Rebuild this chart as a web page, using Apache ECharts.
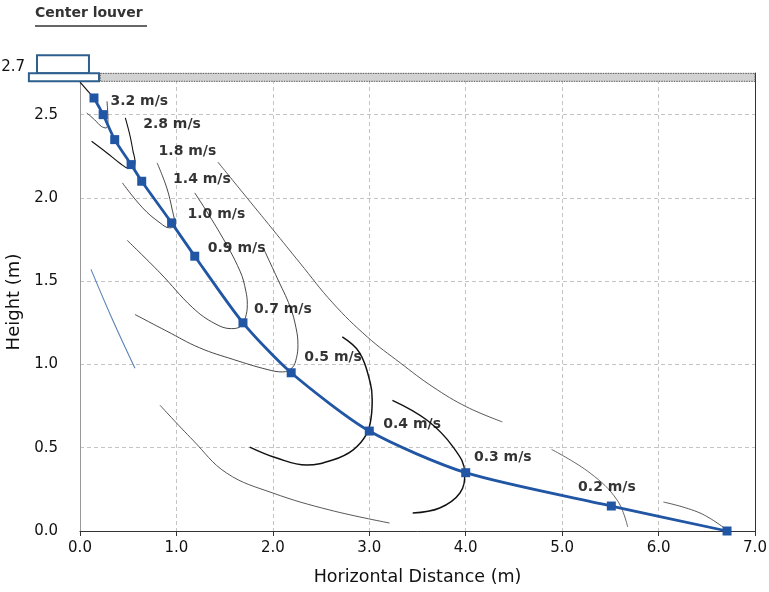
<!DOCTYPE html>
<html>
<head>
<meta charset="utf-8">
<script src="https://cdn.jsdelivr.net/npm/echarts@6/dist/echarts.min.js"></script>
<style>
html,body{margin:0;padding:0;background:#fff;}
#chart{width:769px;height:592px;}
</style>
</head>
<body>
<div id="chart"></div>
<script>
// Main jet trajectory (blue line with square markers)
var trajX = [0.145, 0.24, 0.36, 0.53, 0.64, 0.95, 1.19, 1.69, 2.19, 3.00, 4.00, 5.51, 6.71];
var trajY = [2.60, 2.50, 2.35, 2.20, 2.10, 1.85, 1.65, 1.25, 0.95, 0.60, 0.35, 0.15, 0.00];

// Outlet connector (louver to first point)
var outletLine = [[0.0, 2.695], [0.13, 2.61]];

// Velocity contours (thin lines)
var c32 = [[0.07,2.51],[0.15,2.47],[0.22,2.43],[0.27,2.42],[0.29,2.47],[0.28,2.58]];
var c28 = [[0.12,2.34],[0.28,2.27],[0.41,2.21],[0.50,2.18],[0.55,2.18],[0.57,2.22],[0.55,2.28],[0.52,2.37],[0.47,2.48]];
var c18 = [[0.44,2.09],[0.65,1.94],[0.83,1.85],[0.93,1.82],[0.985,1.84],[0.96,1.92],[0.90,2.06],[0.80,2.21]];
var c14 = [[1.43,2.215],[1.69,2.03],[2.00,1.81],[2.28,1.61],[2.62,1.37],[2.98,1.165],[3.32,1.01],[3.66,0.865],[4.01,0.745],[4.38,0.655]];
var c10 = [[0.49,1.745],[0.83,1.55],[1.17,1.34],[1.40,1.245],[1.57,1.215],[1.67,1.23],[1.715,1.28],[1.735,1.36],[1.72,1.44],[1.66,1.56],[1.45,1.79],[1.19,2.03]];
var c09 = [[0.57,1.30],[0.90,1.20],[1.24,1.10],[1.59,1.03],[1.94,0.97],[2.10,0.955],[2.20,0.98],[2.245,1.04],[2.26,1.12],[2.24,1.22],[2.18,1.345],[2.04,1.525],[1.90,1.70]];
var cLeft = [[0.114,1.571],[0.34,1.265],[0.57,0.977]];
var cLow = [[0.83,0.755],[1.17,0.546],[1.52,0.348],[2.00,0.228],[2.59,0.126],[3.21,0.048]];
var c05 = [[1.76,0.504],[2.04,0.438],[2.35,0.396],[2.62,0.426],[2.83,0.486],[2.97,0.58],[3.02,0.685],[3.03,0.79],[3.01,0.89],[2.90,1.07],[2.72,1.165]];
var c04 = [[3.24,0.785],[3.60,0.665],[3.87,0.504],[3.99,0.348],[3.94,0.228],[3.73,0.138],[3.45,0.108]];
var c02 = [[4.89,0.49],[5.29,0.348],[5.57,0.186],[5.68,0.024]];
var cEnd = [[6.05,0.174],[6.43,0.108],[6.71,0.006]];

// Contour labels
var labelTexts = ['3.2 m/s','2.8 m/s','1.8 m/s','1.4 m/s','1.0 m/s','0.9 m/s','0.7 m/s','0.5 m/s','0.4 m/s','0.3 m/s','0.2 m/s'];
var labelX = [0.31, 0.65, 0.81, 0.96, 1.11, 1.32, 1.80, 2.32, 3.14, 4.08, 5.16];
var labelY = [2.58, 2.44, 2.28, 2.11, 1.90, 1.70, 1.33, 1.04, 0.64, 0.44, 0.26];

// Axis ticks
var xTicks = [0, 1, 2, 3, 4, 5, 6, 7];
var yTicks = [0, 0.5, 1.0, 1.5, 2.0, 2.5];
var ceilingHeight = 2.7;

var FONT = 'DejaVu Sans';
var chart = echarts.init(document.getElementById('chart'), null, {renderer: 'canvas'});

function contour(data, color, width) {
  return {
    type: 'line', data: data, smooth: 0.4, symbol: 'none', silent: true,
    lineStyle: {color: color, width: width}, z: 2
  };
}

var trajData = trajX.map(function (x, i) { return [x, trajY[i]]; });
var labelData = labelTexts.map(function (t, i) { return {name: t, value: [labelX[i], labelY[i]]}; });

var series = [
  contour(c32, '#333', 0.9),
  contour(c28, '#111', 1.1),
  contour(c18, '#333', 0.9),
  contour(c14, '#444', 0.9),
  contour(c10, '#333', 0.9),
  contour(c09, '#333', 0.9),
  contour(cLeft, '#5b83b3', 1.1),
  contour(cLow, '#444', 0.9),
  contour(c05, '#111', 1.5),
  contour(c04, '#111', 1.4),
  contour(c02, '#555', 0.9),
  contour(cEnd, '#444', 0.9),
  contour(outletLine, '#111', 1.2),
  {
    type: 'line', data: trajData, smooth: 0.25, z: 5,
    symbol: 'rect', symbolSize: 9,
    itemStyle: {color: '#2156a5'},
    lineStyle: {color: '#2156a5', width: 2.8}
  },
  {
    type: 'scatter', data: labelData, symbolSize: 1, z: 6, silent: true,
    itemStyle: {color: 'rgba(0,0,0,0)'},
    label: {
      show: true, position: 'right', distance: 0,
      formatter: function (p) { return p.name; },
      fontFamily: FONT, fontWeight: 'bold', fontSize: 14, color: '#000'
    }
  },
  {
    type: 'custom', z: 8, silent: true, clip: false,
    data: [[0, ceilingHeight]],
    renderItem: function (params, api) {
      var top = ceilingHeight + 0.048;
      var p0 = api.coord([0.21, top]);
      var p1 = api.coord([7.0, ceilingHeight]);
      var a0 = api.coord([-0.53, top]);
      var a1 = api.coord([0.197, ceilingHeight]);
      var b0 = api.coord([-0.446, ceilingHeight + 0.157]);
      var b1 = api.coord([0.093, top]);
      var t = api.coord([-0.57, ceilingHeight + 0.085]);
      return {
        type: 'group',
        children: [
          {type: 'rect', shape: {x: p0[0], y: p0[1], width: p1[0] - p0[0], height: p1[1] - p0[1]},
           style: {fill: '#d2d2d2', stroke: '#555', lineWidth: 1, lineDash: [1.5, 1]}},
          {type: 'rect', shape: {x: b0[0], y: b0[1], width: b1[0] - b0[0], height: b1[1] - b0[1]},
           style: {fill: '#fff', stroke: '#2e5f8e', lineWidth: 2}},
          {type: 'rect', shape: {x: a0[0], y: a0[1], width: a1[0] - a0[0], height: a1[1] - a0[1]},
           style: {fill: '#fff', stroke: '#2e5f8e', lineWidth: 2}},
          {type: 'text', x: t[0], y: t[1],
           style: {text: ceilingHeight.toFixed(1), fill: '#111', font: '15px ' + FONT, textAlign: 'right', textVerticalAlign: 'middle'}}
        ]
      };
    }
  }
];

var option = {
  backgroundColor: '#fff',
  animation: false,
  grid: {left: 80, right: 14, top: 73, bottom: 61, containLabel: false, outerBoundsMode: 'none'},
  graphic: [
    {type: 'text', left: 35, top: 6,
     style: {text: 'Center louver', fill: '#333', font: 'bold 14px ' + FONT}},
    {type: 'line', shape: {x1: 35, y1: 26, x2: 147, y2: 26}, style: {stroke: '#333', lineWidth: 1.3}}
  ],
  xAxis: {
    type: 'value', min: xTicks[0], max: xTicks[xTicks.length - 1], interval: 1,
    name: 'Horizontal Distance (m)', nameLocation: 'middle', nameGap: 37,
    nameTextStyle: {fontFamily: FONT, fontSize: 17.5, color: '#111'},
    axisLine: {show: true, lineStyle: {color: '#333', width: 1}},
    axisTick: {show: true, length: 5, lineStyle: {color: '#333'}},
    axisLabel: {fontFamily: FONT, fontSize: 15, color: '#111', margin: 10,
      formatter: function (v) { return v.toFixed(1); }},
    splitLine: {show: true, lineStyle: {color: '#c4c4c4', type: [4, 3]}}
  },
  yAxis: [{
    type: 'value', min: yTicks[0], max: 2.75, interval: 0.5,
    name: 'Height (m)', nameLocation: 'middle', nameGap: 56, nameRotate: 90,
    nameTextStyle: {fontFamily: FONT, fontSize: 18, color: '#111'},
    axisLine: {show: true, lineStyle: {color: '#999', width: 1}},
    axisTick: {show: false},
    axisLabel: {fontFamily: FONT, fontSize: 15, color: '#111', margin: 22,
      formatter: function (v) { return yTicks.indexOf(Math.round(v * 10) / 10) >= 0 && v <= 2.5 ? v.toFixed(1) : ''; }},
    splitLine: {show: true, lineStyle: {color: '#c4c4c4', type: [4, 3]}}
  }, {
    type: 'value', min: 0, max: 2.75, position: 'right',
    axisLine: {show: true, lineStyle: {color: '#333', width: 1}},
    axisTick: {show: false}, axisLabel: {show: false}, splitLine: {show: false}
  }],
  series: series
};
chart.setOption(option);
</script>
</body>
</html>
